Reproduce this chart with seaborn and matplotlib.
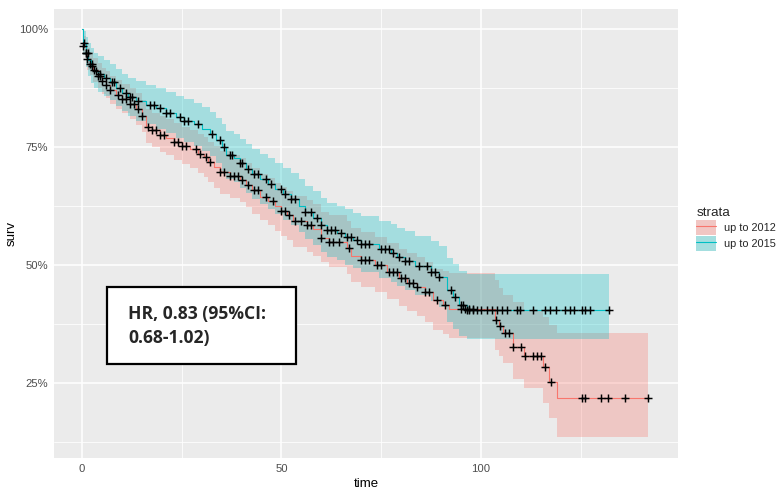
import numpy as np
import pandas as pd
import matplotlib
matplotlib.use("Agg")
import matplotlib.pyplot as plt
import seaborn as sns
from matplotlib.ticker import PercentFormatter, FixedLocator
from matplotlib.patches import Patch, Rectangle
from matplotlib.lines import Line2D

# ---------------- Kaplan-Meier estimates (percent) ----------------
strata_labels = ["up to 2012", "up to 2015"]

# stratum "up to 2012"
time_12 = [0, 0.3, 1, 1.3, 2, 2.7, 4, 5, 6, 7, 8.5, 10, 12, 13.5, 15, 16, 17.5, 19.5, 21, 23,
           25, 27, 29, 30.5, 31.5, 33, 34.5, 37, 39.5, 41, 42.5, 44.5, 46.5, 48.5, 50, 51.5, 53,
           56.5, 58, 60, 62, 66.5, 67.5, 70, 73.5, 76.5, 79.5, 81.5, 84, 86, 88, 90.5, 92,
           103.5, 104.5, 105.5, 108, 110.8, 115.5, 117, 119]
surv_12 = [100, 96.5, 95.0, 93.6, 92.6, 91.3, 90.0, 89.0, 88.2, 87.0, 86.0, 85.2, 84.2, 83.0,
           81.5, 79.3, 78.5, 77.6, 77.0, 76.0, 75.2, 74.6, 73.6, 72.8, 71.8, 70.8, 69.6, 68.8,
           68.0, 67.0, 65.8, 64.5, 63.5, 62.4, 61.4, 60.6, 59.4, 58.4, 57.6, 55.8, 54.9, 53.6,
           52.0, 51.0, 49.9, 48.5, 47.2, 46.2, 45.3, 44.2, 42.5, 41.5, 40.6, 38.3, 37.0, 35.6,
           32.6, 30.7, 28.4, 25.2, 21.8]
lower_12 = [100, 94.5, 92.8, 91.3, 90.2, 88.8, 87.4, 86.3, 85.4, 84.1, 83.0, 82.1, 81.0, 79.7,
            78.1, 75.8, 74.9, 73.9, 73.3, 72.2, 71.3, 70.6, 69.5, 68.6, 67.5, 66.4, 65.1, 64.2,
            63.3, 62.2, 60.9, 59.5, 58.4, 57.2, 56.1, 55.2, 53.9, 52.8, 51.9, 50.6, 49.6, 48.2,
            46.5, 45.4, 44.2, 42.7, 41.3, 40.2, 39.2, 38.0, 36.3, 35.3, 34.5, 32.0, 30.7, 29.2,
            25.8, 23.9, 20.8, 17.6, 13.6]
upper_12 = [100, 98.6, 97.3, 96.0, 95.1, 93.9, 92.7, 91.8, 91.1, 90.0, 89.1, 88.4, 87.5, 86.4,
            85.0, 83.0, 82.3, 81.5, 80.9, 80.0, 79.3, 78.7, 77.8, 77.1, 76.1, 75.2, 74.1, 73.3,
            72.6, 71.6, 70.5, 69.3, 68.4, 67.4, 66.5, 65.7, 64.6, 63.7, 63.0, 61.3, 60.5, 59.3,
            57.8, 56.9, 55.9, 54.6, 53.4, 52.5, 51.7, 50.7, 49.1, 48.7, 48.3, 46.8, 45.1, 43.6,
            42.2, 40.5, 39.0, 37.3, 35.6]
end_12 = 142
censor_12 = [0.3, 1, 1.3, 2, 2.5, 3, 4, 4.5, 5, 6, 7, 9, 10, 11, 12, 13, 14, 15, 16.5, 17.5,
             18.5, 19.5, 20.5, 23, 24, 25, 26, 28.5, 29.5, 31, 32, 34.5, 35.5, 37, 38, 39, 40,
             41.5, 43, 44, 46, 48, 50, 51, 52, 53.5, 55, 56.5, 57.5, 60, 62, 63, 64.5, 67, 70,
             71, 72, 74, 75, 77, 78, 79, 80, 81, 82, 83, 84, 86, 87, 89, 91, 95, 96, 97, 98,
             103.9, 104.9, 106, 107, 108, 110, 111, 113, 114, 115, 116, 117.5, 125.3, 126, 130,
             131.8, 136, 142]

# stratum "up to 2015"
time_15 = [0, 0.3, 1, 1.6, 2.2, 3, 4, 5.5, 7, 8.5, 10, 11.5, 13.5, 16, 18.5, 21, 23.5, 25.5,
           28, 30, 32, 33.5, 35, 36, 38, 39.5, 41, 42.5, 44.5, 46.5, 48.5, 50.5, 52.5, 54.5, 56,
           58, 60, 61.5, 64, 66, 68, 70, 74.5, 77.5, 79, 81, 83.5, 87.5, 89.5, 91.5, 93, 94.5,
           96.5]
surv_15 = [100, 97.0, 95.0, 93.4, 92.2, 91.2, 90.4, 89.6, 88.7, 87.6, 86.5, 85.6, 84.8, 84.0,
           83.2, 82.3, 81.4, 80.6, 79.8, 78.8, 77.8, 76.4, 74.9, 73.3, 72.6, 71.6, 70.4, 69.2,
           68.2, 67.2, 66.2, 65.1, 64.0, 62.6, 61.2, 60.0, 58.4, 57.4, 56.8, 56.0, 55.2, 54.4,
           53.3, 52.5, 51.6, 50.8, 49.8, 48.6, 47.4, 44.6, 43.2, 41.6, 40.5]
lower_15 = [100, 94.5, 92.0, 90.0, 88.6, 87.5, 86.6, 85.8, 84.9, 83.7, 82.6, 81.5, 80.6, 79.8,
            78.9, 77.9, 77.0, 76.0, 75.2, 74.1, 73.0, 71.6, 70.0, 68.3, 67.5, 66.4, 65.2, 63.9,
            62.9, 61.8, 60.8, 59.6, 58.5, 57.0, 55.6, 54.3, 52.7, 51.6, 51.0, 50.1, 49.3, 48.5,
            47.3, 46.4, 45.5, 44.6, 43.6, 42.3, 41.0, 38.0, 36.5, 35.0, 34.3]
upper_15 = [100, 99.5, 98.3, 97.0, 96.0, 95.0, 94.2, 93.4, 92.5, 91.5, 90.5, 89.7, 89.0, 88.2,
            87.5, 86.7, 85.9, 85.2, 84.4, 83.4, 82.5, 81.2, 79.8, 78.4, 77.7, 76.8, 75.6, 74.5,
            73.5, 72.6, 71.6, 70.6, 69.5, 68.2, 66.8, 65.6, 64.2, 63.2, 62.6, 61.9, 61.1, 60.4,
            59.4, 58.6, 57.8, 57.1, 56.2, 55.1, 54.0, 51.5, 50.2, 48.7, 48.2]
end_15 = 132
censor_15 = [0.5, 1, 1.5, 2.5, 3.5, 4.5, 6, 7.5, 8, 9.5, 11, 12, 12.5, 14, 17, 18, 19.5, 21,
             22, 24.5, 25.5, 26.5, 29, 32.5, 34.5, 35.5, 37, 37.5, 39.5, 40, 41.5, 43, 44, 46,
             47.5, 50, 51, 52.5, 53.5, 56, 57.5, 59, 60, 61.5, 62.5, 63.5, 65, 66.5, 67.5, 69,
             70, 71, 72, 75, 76, 77, 78, 79.5, 81, 82, 84.5, 86.5, 87.5, 88.5, 89.5, 92.5, 93.5,
             95, 95.5, 96.5, 97, 98, 99, 100, 101.5, 102.8, 104, 105.3, 106.5, 109, 109.8, 113,
             116, 117.3, 118.8, 121, 122.3, 123.3, 125.3, 126, 127.3, 132]

hr_text = ["HR, 0.83 (95%CI:", "0.68-1.02)"]

# ---------------- assemble tables ----------------
palette = {"up to 2012": "#F8766D", "up to 2015": "#00BFC4"}
key_fill = {"up to 2012": "#F1C6C3", "up to 2015": "#A4DEDF"}

groups = {
    "up to 2012": (time_12, surv_12, lower_12, upper_12, end_12, censor_12),
    "up to 2015": (time_15, surv_15, lower_15, upper_15, end_15, censor_15),
}

line_rows, band_rows, cens_rows = [], [], []
for name, (t, s, lo, hi, tend, cens) in groups.items():
    t_ext = list(t) + [tend]
    s_ext = [v / 100 for v in s] + [s[-1] / 100]
    lo_ext = [v / 100 for v in lo] + [lo[-1] / 100]
    hi_ext = [v / 100 for v in hi] + [hi[-1] / 100]
    for a, b, c, d in zip(t_ext, s_ext, lo_ext, hi_ext):
        line_rows.append((name, a, b))
        band_rows.append((name, a, c, d))
    idx = np.searchsorted(np.asarray(t), np.asarray(cens), side="right") - 1
    for ct, i in zip(cens, idx):
        cens_rows.append((name, ct, s[i] / 100))

lines = pd.DataFrame(line_rows, columns=["strata", "time", "surv"])
bands = pd.DataFrame(band_rows, columns=["strata", "time", "lower", "upper"])
censor = pd.DataFrame(cens_rows, columns=["strata", "time", "surv"])

# ---------------- figure ----------------
sns.set_style("darkgrid", {"axes.facecolor": "#EBEBEB", "grid.color": "white"})
plt.rcParams["font.family"] = ["Liberation Sans", "DejaVu Sans"]

W, H = 778, 493
fig = plt.figure(figsize=(W / 100, H / 100), dpi=100)
ax = fig.add_axes([54 / W, 1 - 458 / H, 624 / W, 449 / H])
ax.set_facecolor("#EBEBEB")
for sp in ax.spines.values():
    sp.set_visible(False)

for name in strata_labels:
    b = bands[bands.strata == name]
    ax.fill_between(b.time, b.lower, b.upper, step="post", color=palette[name],
                    alpha=0.3, lw=0, zorder=2)

sns.lineplot(data=lines, x="time", y="surv", hue="strata", palette=palette,
             drawstyle="steps-post", estimator=None, sort=False, lw=0.8,
             legend=False, ax=ax, zorder=3)
sns.scatterplot(data=censor, x="time", y="surv", marker="+", color="black",
                s=34, linewidth=1.05, legend=False, ax=ax, zorder=4)

ax.set_xlim(-7.02, 149.4)
ax.set_ylim(0.0911, 1.0424)
ax.xaxis.set_major_locator(FixedLocator([0, 50, 100]))
ax.xaxis.set_minor_locator(FixedLocator([25, 75, 125]))
ax.yaxis.set_major_locator(FixedLocator([0.25, 0.5, 0.75, 1.0]))
ax.yaxis.set_minor_locator(FixedLocator([0.125, 0.375, 0.625, 0.875]))
ax.yaxis.set_major_formatter(PercentFormatter(1.0, decimals=0))
ax.grid(which="major", color="white", lw=1.1)
ax.grid(which="minor", color="white", lw=0.55)
ax.set_axisbelow(True)
ax.tick_params(which="major", length=2.5, width=0.8, color="#333333",
               labelsize=8.1, labelcolor="#4D4D4D", pad=2)
ax.tick_params(which="minor", length=0)
ax.set_xlabel("time", fontsize=9.5, color="black", labelpad=3)
ax.set_ylabel("surv", fontsize=9.5, color="black")
ax.yaxis.set_label_coords(-0.059, 0.5)

# legend
handles = [(Patch(facecolor=key_fill[n], edgecolor="none"),
            Line2D([], [], color=palette[n], lw=0.8)) for n in strata_labels]
leg = fig.legend(handles, strata_labels, title="strata", loc="upper left",
                 bbox_to_anchor=(692 / W, 1 - 203 / H), frameon=False,
                 fontsize=7.9, title_fontsize=9.7, handlelength=1.8,
                 handleheight=1.7, labelspacing=0.1, handletextpad=0.7,
                 borderaxespad=0)
leg._legend_box.align = "left"

# hazard ratio annotation
fig.add_artist(Rectangle((107 / W, 1 - 364 / H), 189 / W, 77 / H,
                         transform=fig.transFigure, facecolor="white",
                         edgecolor="black", lw=1.6, zorder=10))
for txt, base in zip(hr_text, [319, 343]):
    fig.text(128 / W, 1 - base / H, txt, fontsize=12.6, fontweight="bold",
             family=["Open Sans", "DejaVu Sans"], va="baseline", ha="left", zorder=11)

fig.savefig("out.png", dpi=100)
